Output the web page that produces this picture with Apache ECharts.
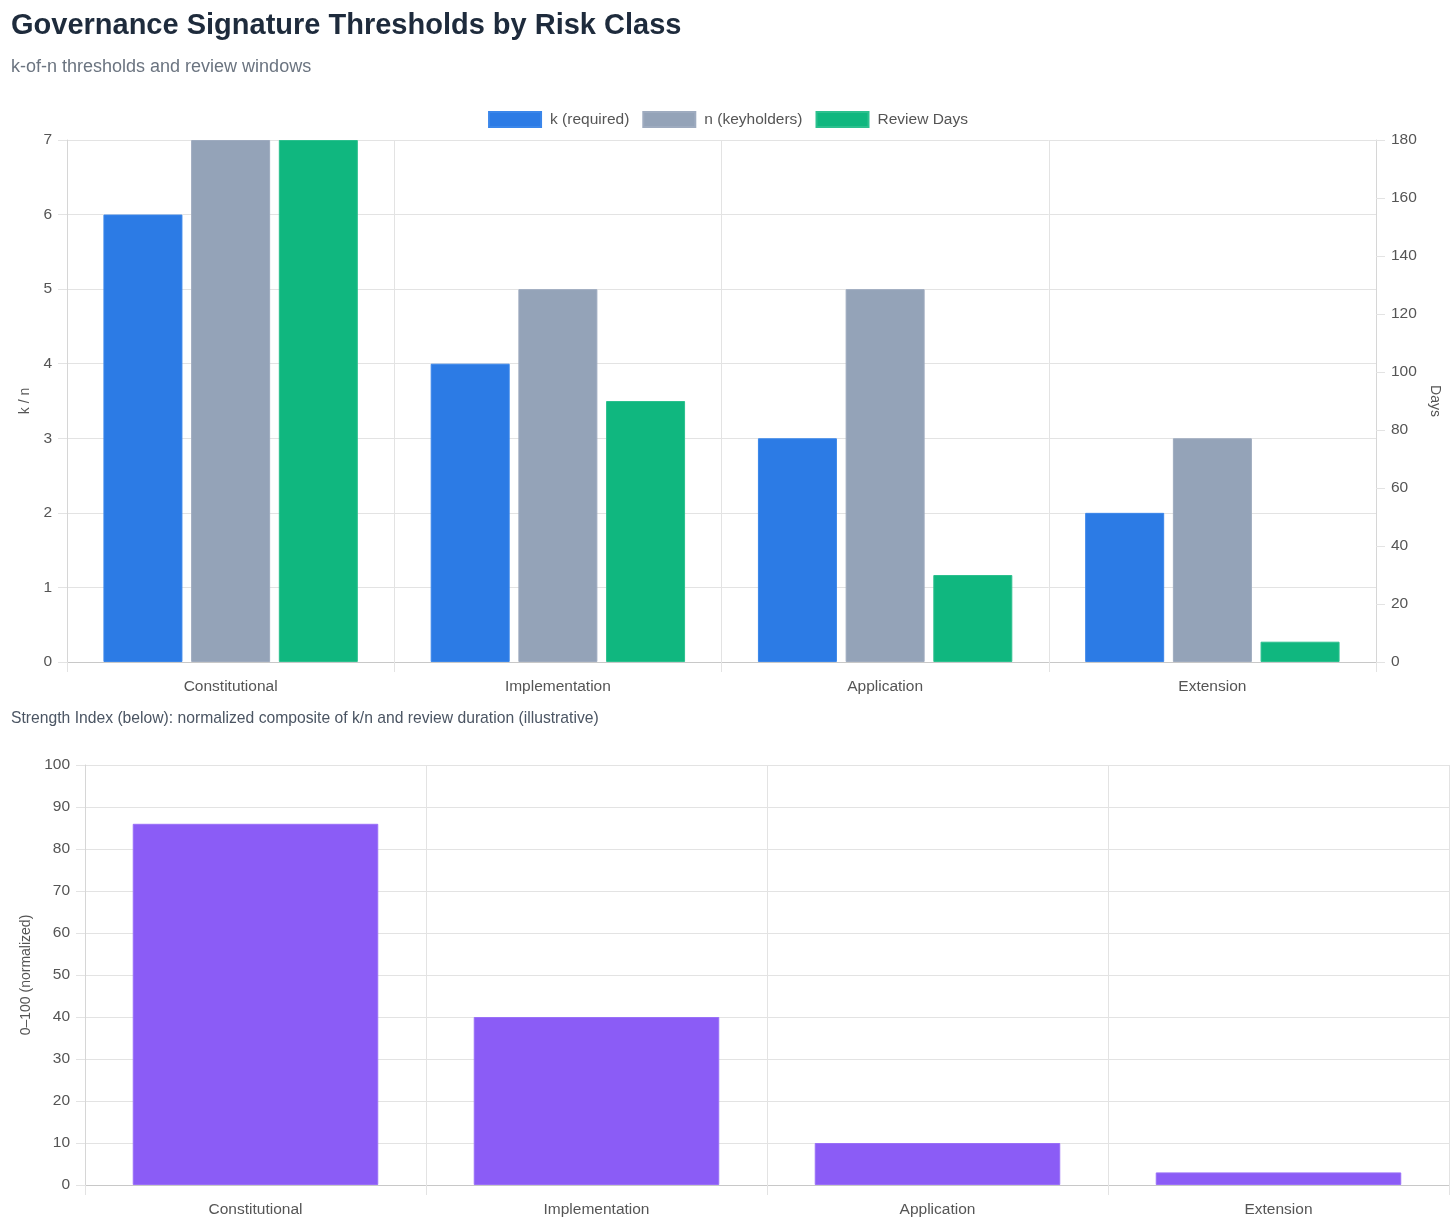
<!DOCTYPE html>
<html><head><meta charset="utf-8">
<script src="https://cdn.jsdelivr.net/npm/echarts@6/dist/echarts.min.js"></script>
<style>html,body{margin:0;padding:0;background:#fff}#c{width:1456px;height:1227px}</style>
</head><body><div id="c"></div>
<script>
const categories = ['Constitutional', 'Implementation', 'Application', 'Extension'];
const kRequired = [6, 4, 3, 2];
const nKeyholders = [7, 5, 5, 3];
const reviewDays = [180, 90, 30, 7];
const strengthIndex = [86, 40, 10, 3];
const seriesNames = ['k (required)', 'n (keyholders)', 'Review Days', 'Strength Index'];

const FONT = '"Liberation Sans", Arial, sans-serif';
const gridColor = '#e3e3e3';
const axisColor = '#c8c8c8';
const labelColor = '#555';

const chart = echarts.init(document.getElementById('c'), null, {renderer: 'canvas'});
const catAxis = (gi) => ({
  type: 'category', gridIndex: gi, data: categories,
  axisLine: {show: true, lineStyle: {color: axisColor}},
  axisTick: {show: true, length: 10, lineStyle: {color: gridColor}},
  splitLine: {show: true, lineStyle: {color: gridColor}},
  axisLabel: {color: labelColor, fontSize: 15.5, fontFamily: FONT, margin: 17}
});
const valAxisBase = {
  axisLine: {show: true, lineStyle: {color: '#d6d6d6'}},
  axisTick: {show: true, length: 9, lineStyle: {color: gridColor}},
  splitLine: {show: true, lineStyle: {color: gridColor}},
  axisLabel: {color: labelColor, fontSize: 15.5, fontFamily: FONT, margin: 15},
  nameTextStyle: {color: labelColor, fontSize: 14, fontFamily: FONT},
  nameLocation: 'middle'
};
chart.setOption({
  animation: false,
  textStyle: {fontFamily: FONT},
  title: [
    {text: 'Governance Signature Thresholds by Risk Class', left: 6, top: 6,
     textStyle: {fontSize: 29, fontWeight: 'bold', color: '#1e2b3c', fontFamily: FONT}},
    {text: 'k-of-n thresholds and review windows', left: 6, top: 53,
     textStyle: {fontSize: 18, fontWeight: 'normal', color: '#6b7480', fontFamily: FONT}},
    {text: 'Strength Index (below): normalized composite of k/n and review duration (illustrative)', left: 6, top: 706,
     textStyle: {fontSize: 15.7, fontWeight: 'normal', color: '#4b5563', fontFamily: FONT}}
  ],
  legend: {
    data: seriesNames.slice(0, 3), top: 106, left: 'center',
    itemWidth: 52, itemHeight: 15, itemGap: 13,
    icon: 'rect',
    textStyle: {color: labelColor, fontSize: 15.5, fontFamily: FONT, padding: [0, 0, 0, 4]}
  },
  grid: [
    {left: 67, right: 80, top: 140, height: 522},
    {left: 85, right: 7, top: 765, height: 420}
  ],
  xAxis: [catAxis(0), catAxis(1)],
  yAxis: [
    Object.assign({}, valAxisBase, {type: 'value', gridIndex: 0, min: 0, max: 7, interval: 1, name: 'k / n', nameGap: 34}),
    Object.assign({}, valAxisBase, {type: 'value', gridIndex: 0, min: 0, max: 180, interval: 20, position: 'right', name: 'Days', nameGap: 52, nameRotate: -90, splitLine: {show: false}}),
    Object.assign({}, valAxisBase, {type: 'value', gridIndex: 1, min: 0, max: 100, interval: 10, name: '0–100 (normalized)', nameGap: 51})
  ],
  series: [
    {name: seriesNames[0], type: 'bar', xAxisIndex: 0, yAxisIndex: 0, data: kRequired, barWidth: 79, barGap: '11%',
     itemStyle: {color: '#2c7be5', borderColor: '#3a86ea', borderWidth: 1}},
    {name: seriesNames[1], type: 'bar', xAxisIndex: 0, yAxisIndex: 0, data: nKeyholders, barWidth: 79, barGap: '11%',
     itemStyle: {color: '#94a3b8', borderColor: '#9eabbf', borderWidth: 1}},
    {name: seriesNames[2], type: 'bar', xAxisIndex: 0, yAxisIndex: 1, data: reviewDays, barWidth: 79, barGap: '11%',
     itemStyle: {color: '#10b77f', borderColor: '#2cc08e', borderWidth: 1}},
    {name: seriesNames[3], type: 'bar', xAxisIndex: 1, yAxisIndex: 2, data: strengthIndex, barWidth: '72%',
     itemStyle: {color: '#8b5cf6', borderColor: '#9a70f7', borderWidth: 1}}
  ]
});
</script></body></html>
